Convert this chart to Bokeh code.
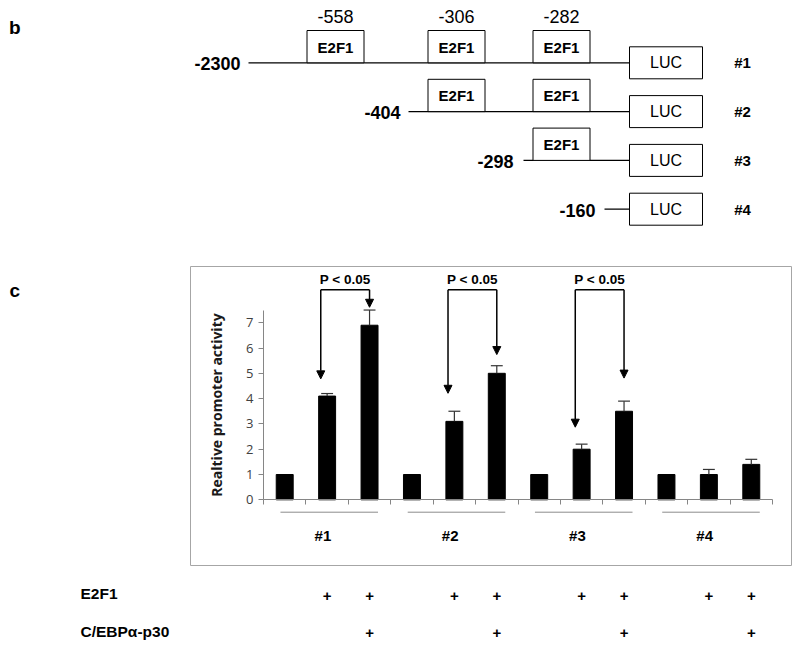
import numpy as np
from bokeh.plotting import figure
from bokeh.layouts import column
from bokeh.models import Range1d, FixedTicker, ColumnDataSource, Arrow, NormalHead
from bokeh.core.properties import value
from bokeh.embed import file_html
from bokeh.resources import INLINE

# ---------------- data ----------------
constructs = ["#1", "#2", "#3", "#4"]
construct_starts = ["-2300", "-404", "-298", "-160"]
site_labels = ["-558", "-306", "-282"]
sites_present = [[1, 1, 1], [0, 1, 1], [0, 0, 1], [0, 0, 0]]

activity_1 = [1.0, 4.1, 6.9]
activity_2 = [1.0, 3.1, 5.0]
activity_3 = [1.0, 2.0, 3.5]
activity_4 = [1.0, 1.0, 1.4]
error_1 = [0.0, 0.1, 0.6]
error_2 = [0.0, 0.4, 0.3]
error_3 = [0.0, 0.2, 0.4]
error_4 = [0.0, 0.2, 0.2]
e2f1_marks = ["", "+", "+"]
cebp_marks = ["", "", "+"]
y_ticks = [0, 1, 2, 3, 4, 5, 6, 7]
p_label = "P < 0.05"
arrow_left_tips = [4.78, 4.21, 2.87]
arrow_right_tips = [7.61, 5.74, 4.81]
bracket_top = 8.3
row_labels = ["E2F1", "C/EBPα-p30"]

ARIAL = value("Liberation Sans")

# page origin of the layout (the rendered page shows no body margin)
PX0, PY0 = 0, 0
W = 792

# ---------------- panel b: promoter diagram (page pixel space) ----------------
A_H = 250
pa = figure(width=W, height=A_H, x_range=Range1d(PX0, PX0 + W), y_range=Range1d(PY0 + A_H, PY0),
            x_axis_type=None, y_axis_type=None, toolbar_location=None, output_backend="svg",
            min_border=0, title=None)
pa.outline_line_color = None
pa.grid.visible = False

row_y = [62.3 + 48.8 * i for i in range(4)]
line_start = [248, 408, 523, 604]
start_label_right = [240, 400, 513, 595]
site_cx = [335, 456, 561]
site_w, site_h = 57, 32.3
luc_l, luc_r, luc_h = 629, 702, 32
construct_x = 742

pa.text(x=[8.5], y=[27], text=["b"], text_font=ARIAL, text_font_style="bold",
        text_font_size="19px", text_align="left", text_baseline="middle")
pa.segment(x0=line_start, y0=row_y, x1=[luc_l] * 4, y1=row_y, line_color="black", line_width=1.2)
pa.text(x=start_label_right, y=[y + 1 for y in row_y], text=construct_starts, text_font=ARIAL,
        text_font_style="bold", text_font_size="18px", text_align="right", text_baseline="middle")

bl, br, bt, bb, bx_c, by_c = [], [], [], [], [], []
for i, pres in enumerate(sites_present):
    for j, p in enumerate(pres):
        if p:
            bl.append(site_cx[j] - site_w / 2); br.append(site_cx[j] + site_w / 2)
            bt.append(row_y[i] - site_h); bb.append(row_y[i])
            bx_c.append(site_cx[j]); by_c.append(row_y[i] - site_h / 2)
pa.quad(left=bl, right=br, top=bt, bottom=bb, fill_color="white", line_color="black", line_width=1)
pa.text(x=bx_c, y=[y + 0.5 for y in by_c], text=["E2F1"] * len(bx_c), text_font=ARIAL,
        text_font_style="bold", text_font_size="15px", text_align="center", text_baseline="middle")
pa.text(x=site_cx, y=[15.5] * 3, text=site_labels, text_font=ARIAL, text_font_size="18px",
        text_align="center", text_baseline="middle")

pa.quad(left=[luc_l] * 4, right=[luc_r] * 4, top=[y - luc_h / 2 for y in row_y],
        bottom=[y + luc_h / 2 for y in row_y], fill_color="white", line_color="black", line_width=1)
pa.text(x=[(luc_l + luc_r) / 2] * 4, y=row_y, text=["LUC"] * 4, text_font=ARIAL,
        text_font_size="16px", text_align="center", text_baseline="middle")
pa.text(x=[construct_x] * 4, y=row_y, text=constructs, text_font=ARIAL, text_font_style="bold",
        text_font_size="15px", text_align="center", text_baseline="middle")

# ---------------- panel c: bar chart ----------------
B_TOP, B_H = PY0 + A_H, 392
X0_PX, X12_PX = 263.0, 772.0
SX = (X12_PX - X0_PX) / 12.0
Y0_PX, SY = 499.3, 25.3


def bx(px):
    return (px - X0_PX) / SX


def by(py):
    return (Y0_PX - py) / SY


pb = figure(width=W, height=B_H, x_range=Range1d(bx(PX0), bx(PX0 + W)),
            y_range=Range1d(by(B_TOP + B_H), by(B_TOP)), toolbar_location=None,
            output_backend="svg", min_border=0, title=None)
pb.outline_line_color = None
pb.grid.visible = False

activities = [activity_1, activity_2, activity_3, activity_4]
errors = [error_1, error_2, error_3, error_4]
vals = np.concatenate(activities)
errs = np.concatenate(errors)
xs = np.arange(len(vals)) + 0.5

# surrounding box
pb.quad(left=[bx(190)], right=[bx(791)], top=[by(266)], bottom=[by(565)],
        fill_color=None, line_color="#a6a6a6", line_width=1)

pb.vbar(x=xs, top=vals, bottom=0, width=0.4, fill_color="black", line_color="black")
m = errs > 0
pb.segment(x0=xs[m], y0=vals[m], x1=xs[m], y1=(vals + errs)[m], line_color="#333333", line_width=1.2)
pb.segment(x0=xs[m] - 0.14, y0=(vals + errs)[m], x1=xs[m] + 0.14, y1=(vals + errs)[m],
           line_color="#333333", line_width=1.2)

# axes
ya = pb.yaxis[0]
ya.fixed_location = 0
ya.bounds = (0, 7.5)
ya.ticker = FixedTicker(ticks=y_ticks)
ya.major_tick_out = 5
ya.major_tick_in = 0
ya.minor_tick_line_color = None
ya.axis_line_color = "#868686"
ya.major_tick_line_color = "#868686"
ya.major_label_text_font = "Open Sans"
ya.major_label_text_font_size = "13px"
ya.major_label_text_color = "#404040"
ya.major_label_standoff = 5
ya.axis_label = "Realtive promoter activity"
ya.axis_label_text_font = "Open Sans"
ya.axis_label_text_font_style = "bold"
ya.axis_label_text_font_size = "14px"
ya.axis_label_text_color = "#1a1a1a"
ya.axis_label_standoff = 17

xa = pb.xaxis[0]
xa.fixed_location = 0
xa.bounds = (0, 12)
xa.ticker = FixedTicker(ticks=list(range(13)))
xa.major_tick_out = 5
xa.major_tick_in = 0
xa.minor_tick_line_color = None
xa.axis_line_color = "#868686"
xa.major_tick_line_color = "#868686"
xa.major_label_overrides = {i: "" for i in range(13)}

# group underlines and labels
g = np.arange(len(constructs)) * 3
pb.segment(x0=g + 0.4, y0=[by(511.7)] * 4, x1=g + 2.7, y1=[by(511.7)] * 4,
           line_color="#8c8c8c", line_width=1)
pb.text(x=g + 1.4, y=[by(535)] * 4, text=constructs, text_font=ARIAL, text_font_style="bold",
        text_font_size="15px", text_align="center", text_baseline="middle")

# significance brackets
lefts = g[:3] + 1.5 - 0.15
rights = g[:3] + 2.5
pb.segment(x0=lefts, y0=[bracket_top] * 3, x1=rights, y1=[bracket_top] * 3,
           line_color="black", line_width=1.5)
arr_src = ColumnDataSource(dict(
    xs=np.concatenate([lefts, rights]),
    ys=[bracket_top] * 6,
    ye=arrow_left_tips + arrow_right_tips))
pb.add_layout(Arrow(end=NormalHead(size=8, fill_color="black", line_color="black"),
                    x_start="xs", y_start="ys", x_end="xs", y_end="ye", source=arr_src,
                    line_color="black", line_width=1.5))
pb.text(x=(lefts + rights) / 2, y=[by(279)] * 3, text=[p_label] * 3, text_font=ARIAL,
        text_font_style="bold", text_font_size="13.5px", text_align="center", text_baseline="middle")

pb.text(x=[bx(9)], y=[by(290)], text=["c"], text_font=ARIAL, text_font_style="bold",
        text_font_size="19px", text_align="left", text_baseline="middle")

# treatment rows
pb.text(x=[bx(80)] * 2, y=[by(593), by(630.5)], text=row_labels, text_font=ARIAL,
        text_font_style="bold", text_font_size="15.5px", text_align="left", text_baseline="middle")
e2f1_all = e2f1_marks * len(constructs)
cebp_all = cebp_marks * len(constructs)
ex = [x for x, t in zip(xs, e2f1_all) if t]
cx = [x for x, t in zip(xs, cebp_all) if t]
pb.text(x=ex, y=[by(595)] * len(ex), text=[t for t in e2f1_all if t], text_font=ARIAL,
        text_font_style="bold", text_font_size="15px", text_align="center", text_baseline="middle")
pb.text(x=cx, y=[by(632)] * len(cx), text=[t for t in cebp_all if t], text_font=ARIAL,
        text_font_style="bold", text_font_size="15px", text_align="center", text_baseline="middle")

layout = column(pa, pb, spacing=0)
open("out.html", "w").write(file_html(layout, INLINE))
